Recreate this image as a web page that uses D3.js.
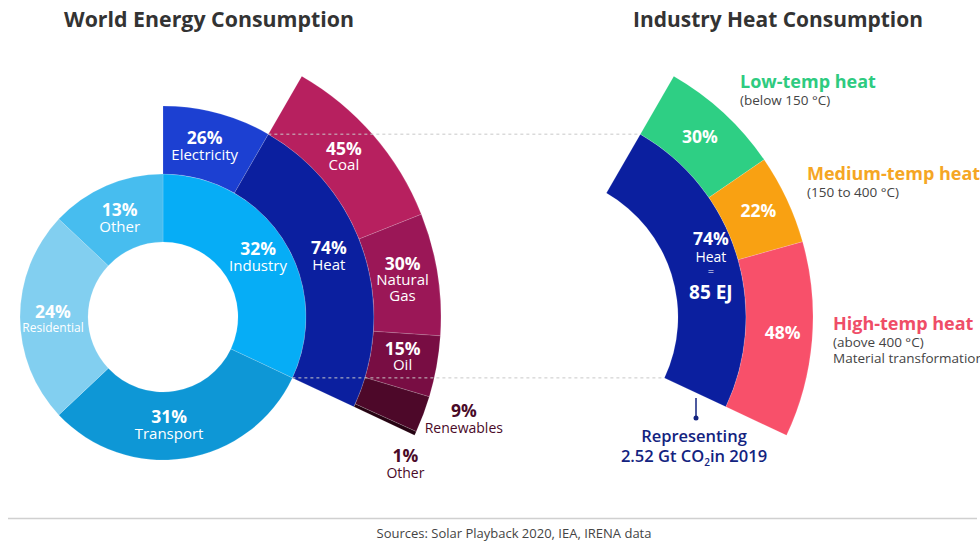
<!DOCTYPE html>
<html>
<head>
<meta charset="utf-8">
<script src="https://cdn.jsdelivr.net/npm/d3@7/dist/d3.min.js"></script>
<style>
  html, body { margin: 0; padding: 0; background: #fff; }
  svg { display: block; font-family: 'Open Sans', sans-serif; }
</style>
</head>
<body>
<div id="chart"></div>
<script>
// Data
const sectors = ['Industry', 'Transport', 'Residential', 'Other'];
const sectorShares = [32, 31, 24, 13];
const industryParts = ['Electricity', 'Heat'];
const industryShares = [26, 74];
const heatFuels = ['Coal', 'Natural Gas', 'Oil', 'Renewables', 'Other'];
const heatFuelShares = [45, 30, 15, 9, 1];
const heatTemps = ['Low-temp heat', 'Medium-temp heat', 'High-temp heat'];
const heatTempShares = [30, 22, 48];
const heatTempNotes = [['(below 150 °C)'], ['(150 to 400 °C)'], ['(above 400 °C)', 'Material transformation']];

const W = 980, H = 547;
const svg = d3.select('#chart').append('svg').attr('width', W).attr('height', H);

const sectorColors = ['#06adf6', '#0e97d6', '#82cff0', '#47bdef'];
const industryColors = ['#1c40d2', '#0b1f9f'];
const fuelColors = ['#b7205f', '#9b1757', '#780d43', '#4d0829', '#260312'];
const tempColors = ['#2ecf84', '#f9a112', '#f8506a'];
const tempLabelColors = ['#2ecb80', '#f5a624', '#ef4d67'];
const navy = '#13237f';
const darkWine = '#4a0a28';

// radii of the rings
const r0 = 75, r1 = 143, r2 = 211, r3 = 278;
const left = { x: 163, y: 317 };
const right = { x: 535, y: 317 };

// angle scales (0 = 12 o'clock, clockwise)
const sectorAngle = d3.scaleLinear().domain([0, 100]).range([0, 2 * Math.PI]);
const industryEnd = sectorAngle(sectorShares[0]);
const industryAngle = d3.scaleLinear().domain([0, 100]).range([0, industryEnd]);
const heatStart = industryAngle(industryShares[0]);
const heatAngle = d3.scaleLinear().domain([0, 100]).range([heatStart, industryEnd]);

function stack(values, scale) {
  let acc = 0;
  return values.map((v, i) => {
    const s = scale(acc); acc += v;
    return { i, v, startAngle: s, endAngle: scale(acc) };
  });
}

const arc = d3.arc();
function polar(c, r, a) { return [c.x + r * Math.sin(a), c.y - r * Math.cos(a)]; }
function centroidAt(c, inner, outer, d) {
  return polar(c, (inner + outer) / 2, (d.startAngle + d.endAngle) / 2);
}

function ring(g, data, inner, outer, colors) {
  g.selectAll(null).data(data).enter().append('path')
    .attr('d', d => arc({ innerRadius: inner, outerRadius: outer, startAngle: d.startAngle, endAngle: d.endAngle }))
    .attr('fill', d => colors[d.i])
    .attr('stroke', 'rgba(255,255,255,0.25)')
    .attr('stroke-width', 0.6);
}

// multi-line text; each line {text, size, weight, dy}
function block(g, x, y, lines, color, anchor = 'middle') {
  const t = g.append('text').attr('text-anchor', anchor).attr('fill', color);
  let yy = y;
  lines.forEach(l => {
    yy += l.dy || 0;
    t.append('tspan').attr('x', x).attr('y', yy)
      .attr('font-size', l.size).attr('font-weight', l.weight || 400).text(l.text);
  });
  return t;
}
const pct = v => `${v}%`;
const PCT = 17.5, BODY = 15;

// ---------- Left chart ----------
const gl = svg.append('g').attr('transform', `translate(${left.x},${left.y})`);
const sectorArcs = stack(sectorShares, sectorAngle);
const industryArcs = stack(industryShares, industryAngle);
const fuelArcs = stack(heatFuelShares, heatAngle);

ring(gl, sectorArcs, r0, r1, sectorColors);
ring(gl, industryArcs, r1, r2, industryColors);
ring(gl, fuelArcs, r2, r3, fuelColors);

// ---------- Right chart ----------
const gr = svg.append('g').attr('transform', `translate(${right.x},${right.y})`);
const heatOnly = [{ i: 1, v: industryShares[1], startAngle: heatStart, endAngle: industryEnd }];
ring(gr, heatOnly, r1, r2, industryColors);
const tempArcs = stack(heatTempShares, heatAngle);
ring(gr, tempArcs, r2, r3, tempColors);

// ---------- Dashed connectors ----------
const topA = polar(left, r2, heatStart);
const topB = polar(right, r2, heatStart);
const botA = polar(left, r1, industryEnd);
const botB = polar(right, r1, industryEnd);
[[topA, topB], [botA, botB]].forEach(([a, b]) => {
  svg.append('line').attr('x1', a[0]).attr('y1', a[1]).attr('x2', b[0]).attr('y2', a[1])
    .attr('stroke', '#c8c8c8').attr('stroke-width', 1).attr('stroke-dasharray', '3,3');
});

const lbl = svg.append('g');

// sector labels: [index, dx, dy, sub font]
[[0, 3, -4, BODY], [1, -11, -2, BODY], [2, -1, 1, 12], [3, 0, -1, BODY]].forEach(([i, dx, dy, sub]) => {
  const [x, y] = centroidAt(left, r0, r1, sectorArcs[i]);
  block(lbl, x + dx, y + dy, [
    { text: pct(sectorShares[i]), size: PCT, weight: 700 },
    { text: sectors[i], size: sub, dy: sub < BODY ? 14 : 16 }
  ], '#fff');
});

// electricity / heat
[[0, -4, -2], [1, -3, -10]].forEach(([i, dx, dy]) => {
  const [x, y] = centroidAt(left, r1, r2, industryArcs[i]);
  block(lbl, x + dx, y + dy, [
    { text: pct(industryShares[i]), size: PCT, weight: 700 },
    { text: industryParts[i], size: BODY, dy: 16 }
  ], '#fff');
});

// fuels inside the ring
[[0, -4, -2], [1, -2, -9], [2, -1, -6]].forEach(([i, dx, dy]) => {
  const [x, y] = centroidAt(left, r2, r3, fuelArcs[i]);
  const words = heatFuels[i].split(' ');
  const lines = [{ text: pct(heatFuelShares[i]), size: PCT, weight: 700 }];
  words.forEach((w, k) => lines.push({ text: w, size: BODY, dy: k === 0 ? 15 : 16 }));
  block(lbl, x + dx, y + dy, lines, '#fff');
});

// small fuels, labelled outside
{
  const d = fuelArcs[3];
  const p = polar(left, r3 + 40, (d.startAngle + d.endAngle) / 2);
  block(lbl, p[0] + 3, p[1] - 11, [
    { text: pct(heatFuelShares[3]), size: PCT, weight: 700 },
    { text: heatFuels[3], size: 14, dy: 16 }
  ], darkWine);
  const e = fuelArcs[4];
  const q = polar(left, r3 + 4, e.endAngle + 0.11);
  block(lbl, q[0] + 2, q[1] - 2, [
    { text: pct(heatFuelShares[4]), size: PCT, weight: 700 },
    { text: heatFuels[4], size: 14, dy: 16 }
  ], darkWine);
}

// ---------- Labels: right ----------
{
  const [x, y] = centroidAt(right, r1, r2, heatOnly[0]);
  block(lbl, x + 7, y - 19, [
    { text: pct(industryShares[1]), size: PCT, weight: 700 },
    { text: 'Heat', size: 14, dy: 17 },
    { text: '=', size: 11, dy: 13 },
    { text: '85 EJ', size: 19, weight: 700, dy: 24 }
  ], '#fff');
}
[[0, -1, 5.5], [1, 2, 4], [2, 4, 1.5]].forEach(([i, dx, dy]) => {
  const [x, y] = centroidAt(right, r2, r3, tempArcs[i]);
  lbl.append('text').attr('x', x + dx).attr('y', y + dy).attr('text-anchor', 'middle')
    .attr('fill', '#fff').attr('font-size', PCT).attr('font-weight', 700)
    .text(pct(heatTempShares[i]));
});

const tempLabelPos = [[740, 88], [807, 180], [833, 330]];
heatTemps.forEach((t, i) => {
  const [x, y] = tempLabelPos[i];
  const lines = [{ text: t, size: 18, weight: 700 }];
  heatTempNotes[i].forEach((n, k) => lines.push({ text: n, size: 13.5, dy: k === 0 ? 17 : 16 }));
  const tx = block(lbl, x, y, lines, '#444', 'start');
  tx.select('tspan').attr('fill', tempLabelColors[i]);
});

// marker and CO2 note
svg.append('line').attr('x1', 696).attr('x2', 696).attr('y1', 398).attr('y2', 418)
  .attr('stroke', navy).attr('stroke-width', 1.5);
svg.append('circle').attr('cx', 696).attr('cy', 418).attr('r', 2.5).attr('fill', navy);
svg.append('text').attr('x', 694).attr('y', 442).attr('text-anchor', 'middle').attr('fill', navy)
  .attr('font-size', 16.5).attr('font-weight', 600).text('Representing');
{
  const t2 = svg.append('text').attr('x', 694).attr('y', 462).attr('text-anchor', 'middle').attr('fill', navy)
    .attr('font-size', 16.5).attr('font-weight', 600);
  t2.append('tspan').text('2.52 Gt CO');
  t2.append('tspan').attr('font-size', 10).attr('dy', 4).text('2');
  t2.append('tspan').attr('dy', -4).text('in 2019');
}

// ---------- Titles & footer ----------
svg.append('text').attr('x', 64).attr('y', 27).attr('fill', '#333')
  .attr('font-size', 21).attr('font-weight', 700)
  .attr('textLength', 290).attr('lengthAdjust', 'spacingAndGlyphs')
  .text('World Energy Consumption');
svg.append('text').attr('x', 633).attr('y', 27).attr('fill', '#333')
  .attr('font-size', 21).attr('font-weight', 700)
  .attr('textLength', 290).attr('lengthAdjust', 'spacingAndGlyphs')
  .text('Industry Heat Consumption');

svg.append('line').attr('x1', 8).attr('x2', 977).attr('y1', 518.5).attr('y2', 518.5)
  .attr('stroke', '#d0d0d0').attr('stroke-width', 1.5);
svg.append('text').attr('x', 514).attr('y', 538).attr('text-anchor', 'middle')
  .attr('fill', '#444').attr('font-size', 13)
  .text('Sources: Solar Playback 2020, IEA, IRENA data');
</script>
</body>
</html>
